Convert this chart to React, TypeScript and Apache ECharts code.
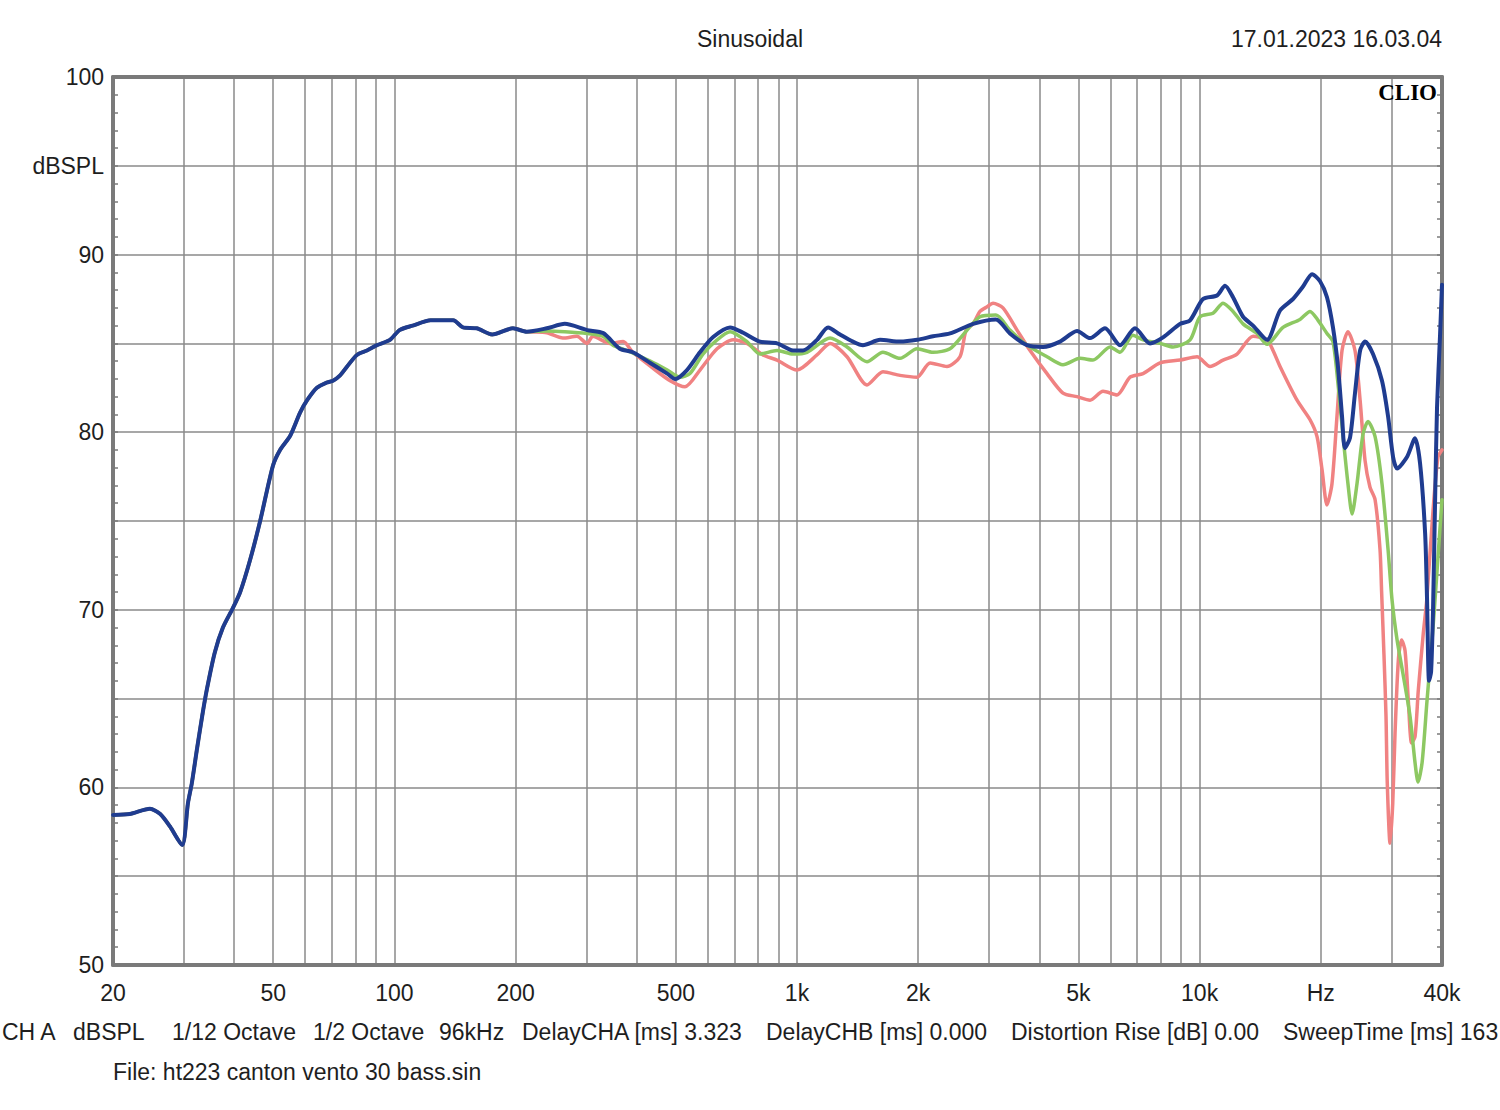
import React, { useEffect, useRef } from "react";
import * as echarts from "echarts";

// ---- data (frequency in Hz, level in dBSPL) ----
const gridFreqs = [20, 30, 40, 50, 60, 70, 80, 90, 100, 200, 300, 400, 500, 600, 700, 800, 900, 1000, 2000, 3000, 4000, 5000, 6000, 7000, 8000, 9000, 10000, 20000, 30000, 40000];
const labelFreqs = [20, 50, 100, 200, 500, 1000, 2000, 5000, 10000, 20000, 40000];
const labelTexts = ["20", "50", "100", "200", "500", "1k", "2k", "5k", "10k", "Hz", "40k"];
const yTickValues = [100, 95, 90, 80, 70, 60, 50];
const yTickTexts = ["100", "dBSPL", "90", "80", "70", "60", "50"];

const sharedLow: number[][] = [
  [20, 58.45], [22, 58.5], [24.7, 58.8], [26.2, 58.5], [27.7, 57.8], [29.7, 56.75], [30.7, 59.1], [31.4, 60.25],
  [32.3, 62.1], [33.3, 64.0], [34.2, 65.5], [35.8, 67.6], [37.5, 69.0], [39.7, 70.1], [41.4, 71.0], [43.8, 72.8],
  [46.4, 75.0], [49.9, 78.1], [52.0, 79.0], [55.1, 79.8], [58.3, 81.1], [60.7, 81.8], [64.2, 82.5], [68.0, 82.8],
  [70.4, 82.9], [73.3, 83.2], [76.3, 83.7], [80.7, 84.35], [85.5, 84.6], [90.5, 84.9], [97.5, 85.2], [103, 85.75],
  [111, 86.0], [123, 86.3], [140, 86.3], [148, 85.9], [160, 85.85], [175, 85.5], [197, 85.85], [213, 85.66],
];

const blueHigh: number[][] = [
  [239, 85.85], [265, 86.1], [301, 85.75], [330, 85.58], [363, 84.7], [391, 84.5], [432, 83.9], [476, 83.3],
  [498, 83.0], [533, 83.5], [574, 84.5], [619, 85.36], [682, 85.9], [735, 85.6], [809, 85.1], [892, 85.0],
  [978, 84.6], [1035, 84.6], [1121, 85.2], [1194, 85.9], [1279, 85.5], [1377, 85.1], [1458, 84.9], [1608, 85.2],
  [1802, 85.1], [1987, 85.2], [2177, 85.4], [2399, 85.56], [2737, 86.1], [3120, 86.35], [3380, 85.56], [3727, 84.9],
  [4084, 84.8], [4500, 85.1], [4960, 85.7], [5344, 85.3], [5822, 85.85], [6344, 84.9], [6912, 85.85], [7532, 85.0],
  [8114, 85.34], [8942, 86.1], [9468, 86.3], [10198, 87.5], [11048, 87.7], [11566, 88.25], [12106, 87.6], [12820, 86.5],
  [13574, 86.0], [14706, 85.2], [15840, 86.85], [17062, 87.5], [18068, 88.2], [19022, 88.9], [19912, 88.5], [20720, 87.6],
  [21440, 85.9], [22060, 83.7], [22580, 80.9], [22960, 79.1], [23640, 79.7], [24320, 82.2], [25040, 84.6], [25760, 85.1],
  [26960, 84.4], [28380, 82.9], [29380, 80.9], [30240, 78.6], [30940, 77.96], [32740, 78.6], [34280, 79.66], [35280, 78.25],
  [36320, 74.3], [36720, 70.6], [37140, 66.0], [37580, 66.5], [38000, 70.0], [38440, 76.0], [38880, 81.4], [39560, 85.5],
  [40000, 88.3],
];

const greenHigh: number[][] = [
  [239, 85.7], [265, 85.66], [301, 85.56], [330, 85.4], [349, 84.9], [378, 84.6], [432, 84.0], [476, 83.5],
  [512, 83.1], [542, 83.3], [584, 84.4], [633, 85.2], [682, 85.66], [751, 85.1], [809, 84.4], [892, 84.6],
  [978, 84.4], [1059, 84.5], [1208, 85.3], [1331, 84.8], [1492, 83.97], [1635, 84.5], [1802, 84.16], [1987, 84.7],
  [2177, 84.5], [2399, 84.7], [2645, 85.75], [2848, 86.5], [3120, 86.6], [3380, 85.75], [3727, 84.9], [4178, 84.25],
  [4578, 83.8], [5046, 84.16], [5436, 84.06], [5992, 84.8], [6344, 84.5], [6830, 85.46], [7236, 85.2], [7976, 85.0],
  [8590, 84.8], [9468, 85.2], [10024, 86.5], [10798, 86.7], [11434, 87.26], [12106, 86.8], [12820, 86.1], [13888, 85.56],
  [14706, 84.95], [16112, 85.9], [17760, 86.35], [18806, 86.8], [19686, 86.3], [20720, 85.56], [21440, 85.1], [22060, 82.75],
  [22720, 79.75], [23360, 77.1], [23920, 75.4], [24600, 77.1], [25460, 79.9], [26200, 80.6], [27280, 79.75], [28380, 77.1],
  [29380, 73.4], [30060, 70.55], [30940, 68.3], [32000, 66.4], [33320, 64.0], [34280, 61.4], [34880, 60.3], [35700, 61.4],
  [36720, 64.9], [38000, 69.0], [39100, 73.0], [40000, 76.2],
];

const redHigh: number[][] = [
  [239, 85.6], [262, 85.3], [284, 85.4], [301, 85.0], [311, 85.4], [343, 85.0], [370, 85.1], [391, 84.5],
  [439, 83.6], [484, 82.9], [527, 82.56], [574, 83.5], [633, 84.7], [694, 85.2], [751, 85.0], [823, 84.35],
  [892, 84.06], [1000, 83.5], [1121, 84.35], [1208, 85.0], [1331, 84.25], [1492, 82.66], [1635, 83.4], [1802, 83.2],
  [1987, 83.1], [2140, 83.9], [2358, 83.7], [2540, 84.25], [2630, 85.75], [2737, 86.1], [2848, 86.8], [2965, 87.06],
  [3068, 87.26], [3248, 87.0], [3520, 85.75], [3792, 84.6], [4178, 83.3], [4578, 82.2], [4960, 82.0], [5344, 81.8],
  [5756, 82.3], [6236, 82.1], [6718, 83.1], [7236, 83.3], [7976, 83.9], [8942, 84.06], [9854, 84.25], [10614, 83.7],
  [11434, 84.06], [12386, 84.4], [13574, 85.4], [14706, 85.2], [15218, 84.6], [15840, 83.7], [17458, 81.8], [18806, 80.7],
  [19574, 79.75], [20140, 77.9], [20720, 75.9], [21320, 77.1], [21940, 80.9], [22580, 84.6], [23360, 85.66], [24320, 84.6],
  [25040, 81.8], [25760, 78.4], [26500, 76.9], [27280, 76.2], [28060, 73.4], [28320, 71.0], [28700, 67.5], [29040, 64.0],
  [29250, 60.25], [29720, 56.85], [30180, 59.1], [30580, 63.06], [31170, 67.2], [31760, 68.3], [32380, 67.7], [32990, 64.9],
  [33620, 62.5], [34280, 62.85], [34940, 65.5], [35950, 68.7], [36660, 70.55], [38000, 75.6], [39100, 78.6], [40000, 79.0],
];

const footerItems = [
  { text: "CH A", x: 2 },
  { text: "dBSPL", x: 73 },
  { text: "1/12 Octave", x: 172 },
  { text: "1/2 Octave", x: 313 },
  { text: "96kHz", x: 439 },
  { text: "DelayCHA [ms] 3.323", x: 522 },
  { text: "DelayCHB [ms] 0.000", x: 766 },
  { text: "Distortion Rise [dB] 0.00", x: 1011 },
  { text: "SweepTime [ms] 163", x: 1283 },
];

const FONT = '"Liberation Sans", Arial, sans-serif';
const FS = 23;
const TXT = "#1e1e1e";
const AXIS = "#7a7a7a";
const GRID = "#8a8a8a";
const RED = "#f08282";
const GREEN = "#8dc862";
const BLUE = "#1f3c90";

const toLog = (f: number) => Math.log10(f);

export default function App() {
  const ref = useRef<HTMLDivElement>(null);

  useEffect(() => {
    if (!ref.current) return;
    const chart = echarts.init(ref.current, undefined, { renderer: "svg" });
    const xMin = toLog(20);
    const xMax = toLog(40000);
    const labelLogs = labelFreqs.map(toLog);

    const mk = (name: string, arr: number[][], color: string, width: number, z: number) => ({
      name,
      type: "line",
      data: arr.map(([f, v]) => [toLog(f), v]),
      showSymbol: false,
      symbol: "none",
      smooth: 0.25,
      lineStyle: { color, width, join: "round", cap: "round" },
      itemStyle: { color },
      z,
      silent: true,
    });

    const option: any = {
      animation: false,
      backgroundColor: "#ffffff",
      grid: { left: 113, top: 77, width: 1329, height: 888, containLabel: false },
      xAxis: [
        {
          type: "value",
          min: xMin,
          max: xMax,
          position: "bottom",
          axisLine: { show: true, onZero: false, lineStyle: { color: AXIS, width: 4 } },
          axisTick: { show: false, customValues: gridFreqs.map(toLog) },
          splitLine: { show: true, lineStyle: { color: GRID, width: 1.5 } },
          axisLabel: {
            show: true,
            customValues: labelLogs,
            formatter: (v: number) => {
              const i = labelLogs.findIndex((l) => Math.abs(l - v) < 1e-6);
              return i >= 0 ? labelTexts[i] : "";
            },
            margin: 16,
            fontSize: FS,
            fontFamily: FONT,
            color: TXT,
          },
        },
        {
          type: "value",
          min: xMin,
          max: xMax,
          position: "top",
          axisLine: { show: true, onZero: false, lineStyle: { color: AXIS, width: 4 } },
          axisTick: { show: false },
          splitLine: { show: false },
          axisLabel: { show: false },
        },
      ],
      yAxis: [
        {
          type: "value",
          min: 50,
          max: 100,
          interval: 5,
          position: "left",
          axisLine: { show: true, onZero: false, lineStyle: { color: AXIS, width: 4 } },
          axisTick: { show: true, inside: true, length: 5, lineStyle: { color: AXIS, width: 1.5 } },
          minorTick: { show: true, splitNumber: 5, length: 5, lineStyle: { color: AXIS, width: 1.5 } },
          splitLine: { show: true, lineStyle: { color: GRID, width: 1.5 } },
          axisLabel: {
            margin: 9,
            fontSize: FS,
            fontFamily: FONT,
            color: TXT,
            formatter: (v: number) => {
              const i = yTickValues.indexOf(Math.round(v));
              return i >= 0 ? yTickTexts[i] : "";
            },
          },
        },
        {
          type: "value",
          min: 50,
          max: 100,
          interval: 5,
          position: "right",
          axisLine: { show: true, onZero: false, lineStyle: { color: AXIS, width: 4 } },
          axisTick: { show: true, inside: true, length: 5, lineStyle: { color: AXIS, width: 1.5 } },
          minorTick: { show: true, splitNumber: 5, length: 5, lineStyle: { color: AXIS, width: 1.5 } },
          splitLine: { show: false },
          axisLabel: { show: false },
        },
      ],
      series: [
        mk("red", sharedLow.concat(redHigh), RED, 3.5, 2),
        mk("green", sharedLow.concat(greenHigh), GREEN, 3.5, 3),
        mk("blue", sharedLow.concat(blueHigh), BLUE, 4, 4),
      ],
      graphic: {
        elements: [
          {
            type: "text",
            x: 750,
            y: 39,
            style: { text: "Sinusoidal", fontSize: FS, fontFamily: FONT, fill: TXT, align: "center", verticalAlign: "middle" },
          },
          {
            type: "text",
            x: 1442,
            y: 39,
            style: { text: "17.01.2023 16.03.04", fontSize: FS, fontFamily: FONT, fill: TXT, align: "right", verticalAlign: "middle" },
          },
          {
            type: "text",
            x: 1437,
            y: 92,
            z: 10,
            style: {
              text: "CLIO",
              fontSize: 23,
              fontWeight: "bold",
              fontFamily: '"Liberation Serif", "DejaVu Serif", serif',
              fill: "#000000",
              align: "right",
              verticalAlign: "middle",
            },
          },
          ...footerItems.map((it) => ({
            type: "text",
            x: it.x,
            y: 1032,
            style: { text: it.text, fontSize: FS, fontFamily: FONT, fill: TXT, align: "left", verticalAlign: "middle" },
          })),
          {
            type: "text",
            x: 113,
            y: 1072,
            style: { text: "File: ht223 canton vento 30 bass.sin", fontSize: FS, fontFamily: FONT, fill: TXT, align: "left", verticalAlign: "middle" },
          },
        ],
      },
    };

    chart.setOption(option);
    return () => chart.dispose();
  }, []);

  return (
    <div
      ref={ref}
      style={{ position: "absolute", left: 0, top: 0, width: 1500, height: 1110, background: "#ffffff" }}
    />
  );
}
